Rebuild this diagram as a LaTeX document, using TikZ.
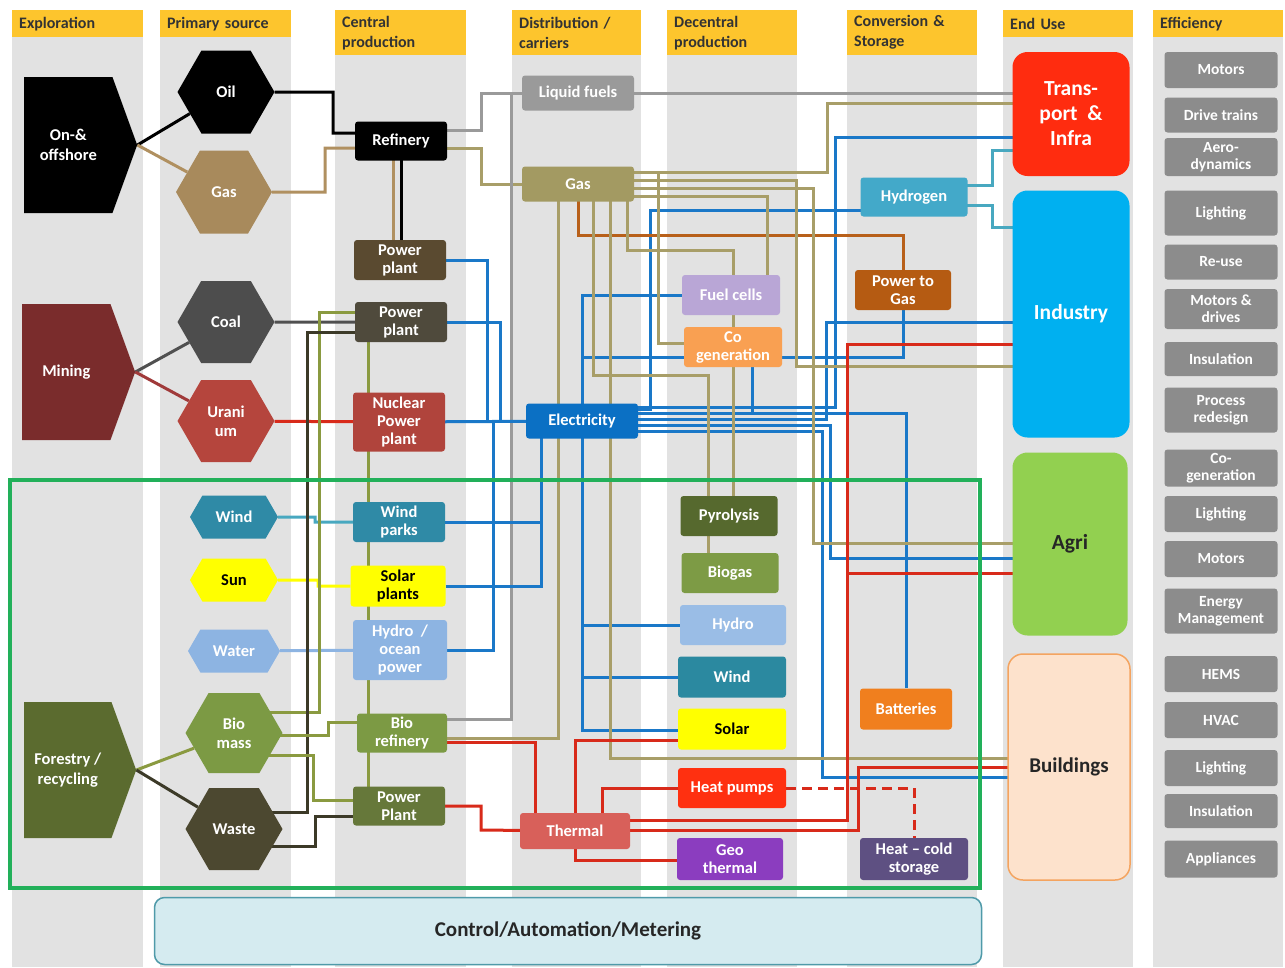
\documentclass[tikz,border=0pt]{standalone}
\usepackage{fontspec}
\setmainfont{Carlito}
\usetikzlibrary{shapes.symbols,shapes.geometric}
\pgfdeclarelayer{bg}
\pgfdeclarelayer{lines}
\pgfsetlayers{bg,lines,main}
\definecolor{hdr}{HTML}{FDC52D}
\definecolor{colgray}{HTML}{E2E2E2}
\definecolor{tanc}{HTML}{B09060}
\definecolor{khaki}{HTML}{A89E68}
\definecolor{grayc}{HTML}{9A9A9A}
\definecolor{bluec}{HTML}{1A78C8}
\definecolor{olivec}{HTML}{8A9A40}
\definecolor{darkc}{HTML}{3C3A28}
\definecolor{dgrayc}{HTML}{505050}
\definecolor{redc}{HTML}{D82A1A}
\definecolor{mredc}{HTML}{A03A3A}
\definecolor{brownc}{HTML}{B8601A}
\definecolor{tealc}{HTML}{48A8C0}
\definecolor{ltblue}{HTML}{8DB4E2}
\definecolor{yel}{HTML}{FFFF00}
\definecolor{effg}{HTML}{8C8C8C}
\definecolor{frame}{HTML}{22B05A}
\tikzset{
  bx/.style={rectangle, rounded corners=3pt, text=white, align=center, inner sep=1pt,
    font=\bfseries\fontsize{16.5}{18}\selectfont},
  hex/.style={signal, signal to=east and west, signal pointer angle=120, text=white, align=center,
    inner sep=1pt, font=\bfseries\fontsize{16.5}{19}\selectfont},
  arr/.style={signal, signal to=east, signal pointer angle=140, text=white, align=center,
    inner sep=1pt, font=\bfseries\fontsize{16.5}{20}\selectfont, anchor=west},
  hdrbox/.style={rectangle, fill=hdr, anchor=north west, align=left, text width=117pt, inner sep=0pt,
    inner xsep=7pt, text=black!80, font=\bfseries\fontsize{16}{20}\selectfont},
  eff/.style={bx, fill=effg, minimum width=113pt, font=\bfseries\fontsize{15.5}{17}\selectfont},
  enduse/.style={rectangle, rounded corners=15pt, align=center, inner sep=1pt,
    font=\bfseries\fontsize{21.5}{25}\selectfont},
  ln/.style={line width=3pt},
}
\begin{document}
\begin{tikzpicture}[x=1pt,y=-1pt]
\useasboundingbox (0,0) rectangle (1285,967);
% columns
\begin{pgfonlayer}{bg}
\fill[white] (0,0) rectangle (1285,967);
\foreach \xa/\w/\yt in {12/131/37,160/131/37,335/131/55,512/129/55,667/130/55,847/130/55,1003/130/37,1153/130/37}
  \fill[colgray] (\xa,\yt) rectangle (\xa+\w,967);
\end{pgfonlayer}
% headers
\node[hdrbox, minimum height=27pt] (h1) at (12,10) {Exploration};
\node[hdrbox, minimum height=27pt] (h2) at (160,10) {Primary source};
\node[hdrbox, minimum height=45pt] (h3) at (335,10) {Central\\production};
\node[hdrbox, minimum height=45pt, text width=115pt] (h4) at (512,10) {Distribution /\\carriers};
\node[hdrbox, minimum height=45pt, text width=116pt] (h5) at (667,10) {Decentral\\production};
\node[hdrbox, minimum height=45pt, text width=116pt] (h6) at (847,10) {Conversion \&\\Storage};
\node[hdrbox, minimum height=27pt, text width=116pt] (h7) at (1003,10) {End Use};
\node[hdrbox, minimum height=27pt, text width=116pt] (h8) at (1153,10) {Efficiency};

% exploration
\node[arr, fill=black, minimum width=113pt, minimum height=136pt] (onoff) at (24,145) {On-\&\\offshore};
\node[arr, fill={rgb,255:red,122;green,44;blue,44}, minimum width=113pt, minimum height=136pt] (mining) at (22,372) {Mining};
\node[arr, fill={rgb,255:red,91;green,107;blue,47}, minimum width=112pt, minimum height=136pt] (forestry) at (24,770) {Forestry /\\recycling};
% primary
\node[hex, fill=black, minimum width=97pt, minimum height=83pt] (oil) at (226,92) {Oil};
\node[hex, fill={rgb,255:red,168;green,138;blue,92}, minimum width=96pt, minimum height=83pt] (gashex) at (224,192) {Gas};
\node[hex, fill={rgb,255:red,77;green,77;blue,77}, minimum width=97pt, minimum height=82pt] (coal) at (226,322) {Coal};
\node[hex, fill={rgb,255:red,181;green,69;blue,61}, minimum width=97pt, minimum height=82pt] (uranium) at (226,421) {Urani\\um};
\node[hex, fill={rgb,255:red,47;green,138;blue,166}, minimum width=88pt, minimum height=43pt] (windhex) at (234,517) {Wind};
\node[hex, fill=yel, text=black, minimum width=88pt, minimum height=43pt] (sunhex) at (234,580) {Sun};
\node[hex, fill=ltblue, minimum width=92pt, minimum height=43pt] (waterhex) at (234,651) {Water};
\node[hex, fill={rgb,255:red,124;green,154;blue,68}, minimum width=97pt, minimum height=80pt] (biohex) at (234,733) {Bio\\mass};
\node[hex, fill={rgb,255:red,76;green,72;blue,48}, minimum width=97pt, minimum height=82pt] (wastehex) at (234,829) {Waste};
% central
\node[bx, fill=black, minimum width=92pt, minimum height=39pt] (refinery) at (401,141) {Refinery};
\node[bx, fill={rgb,255:red,90;green,74;blue,48}, minimum width=92pt, minimum height=40pt] (pp1) at (400,260) {Power\\plant};
\node[bx, fill={rgb,255:red,79;green,74;blue,60}, minimum width=92pt, minimum height=40pt] (pp2) at (401,322) {Power\\plant};
\node[bx, fill={rgb,255:red,176;green,68;blue,60}, minimum width=92pt, minimum height=59pt] (nuclear) at (399,422) {Nuclear\\Power\\plant};
\node[bx, fill={rgb,255:red,47;green,138;blue,166}, minimum width=92pt, minimum height=40pt] (windparks) at (399,522) {Wind\\parks};
\node[bx, fill=yel, text=black, minimum width=95pt, minimum height=41pt] (solarplants) at (398,586) {Solar\\plants};
\node[bx, fill=ltblue, minimum width=94pt, minimum height=60pt] (hydroocean) at (400,650) {Hydro \ /\\ocean\\power};
\node[bx, fill={rgb,255:red,124;green,154;blue,68}, minimum width=90pt, minimum height=39pt] (biorefinery) at (402,733) {Bio\\refinery};
\node[bx, fill={rgb,255:red,102;green,120;blue,58}, minimum width=92pt, minimum height=39pt] (pp3) at (399,806) {Power\\Plant};
% distribution
\node[bx, fill={rgb,255:red,154;green,154;blue,154}, minimum width=112pt, minimum height=35pt] (liquid) at (578,93) {Liquid fuels};
\node[bx, fill={rgb,255:red,163;green,154;blue,98}, minimum width=112pt, minimum height=35pt] (gasd) at (578,184) {Gas};
\node[bx, fill={rgb,255:red,11;green,112;blue,196}, minimum width=112pt, minimum height=35pt] (elec) at (582,421) {Electricity};
\node[bx, fill={rgb,255:red,216;green,96;blue,90}, minimum width=110pt, minimum height=36pt] (thermal) at (575,831) {Thermal};
% decentral
\node[bx, fill={rgb,255:red,185;green,166;blue,214}, minimum width=98pt, minimum height=40pt] (fuelcells) at (731,295) {Fuel cells};
\node[bx, fill={rgb,255:red,249;green,160;blue,82}, minimum width=98pt, minimum height=40pt] (cogen) at (733,347) {Co\\generation};
\node[bx, fill={rgb,255:red,86;green,105;blue,46}, minimum width=97pt, minimum height=40pt] (pyrolysis) at (729,516) {Pyrolysis};
\node[bx, fill={rgb,255:red,125;green,155;blue,69}, minimum width=97pt, minimum height=40pt] (biogas) at (730,573) {Biogas};
\node[bx, fill={rgb,255:red,154;green,189;blue,230}, minimum width=106pt, minimum height=40pt] (hydrodec) at (733,625) {Hydro};
\node[bx, fill={rgb,255:red,43;green,137;blue,160}, minimum width=108pt, minimum height=41pt] (winddec) at (732,677) {Wind};
\node[bx, fill=yel, text=black, minimum width=108pt, minimum height=41pt] (solardec) at (732,729) {Solar};
\node[bx, fill={rgb,255:red,255;green,48;blue,16}, minimum width=108pt, minimum height=40pt] (heatpumps) at (732,788) {Heat pumps};
\node[bx, fill={rgb,255:red,139;green,61;blue,191}, minimum width=106pt, minimum height=42pt] (geothermal) at (730,859) {Geo\\thermal};
% conversion
\node[bx, fill={rgb,255:red,67;green,169;blue,201}, minimum width=107pt, minimum height=39pt] (hydrogen) at (914,197) {Hydrogen};
\node[bx, fill={rgb,255:red,181;green,91;blue,18}, minimum width=96pt, minimum height=40pt] (p2g) at (903,290) {Power to\\Gas};
\node[bx, fill={rgb,255:red,240;green,127;blue,30}, minimum width=92pt, minimum height=41pt] (batteries) at (906,709) {Batteries};
\node[bx, fill={rgb,255:red,94;green,80;blue,130}, minimum width=108pt, minimum height=42pt] (heatcold) at (914,859) {Heat -- cold\\storage};
% end use
\node[enduse, fill={rgb,255:red,255;green,44;blue,15}, text=white, minimum width=117pt, minimum height=124pt] (transport) at (1071,114) {Trans-\\port \ \&\\Infra};
\node[enduse, fill={rgb,255:red,0;green,176;blue,240}, text=white, minimum width=117pt, minimum height=247pt] (industry) at (1071,314) {Industry};
\node[enduse, fill={rgb,255:red,146;green,208;blue,80}, text=black!85, minimum width=115pt, minimum height=183pt] (agri) at (1070,544) {Agri};
\node[enduse, fill={rgb,255:red,253;green,226;blue,204}, draw={rgb,255:red,244;green,164;blue,96}, line width=1.5pt, text=black!85, minimum width=122pt, minimum height=226pt, font=\bfseries\fontsize{21}{24}\selectfont] (buildings) at (1069,767) {Buildings};
% efficiency
\node[eff, minimum height=36pt] (e1) at (1221,70) {Motors};
\node[eff, minimum height=35pt] (e2) at (1221,115) {Drive trains};
\node[eff, minimum height=38pt] (e3) at (1221,157) {Aero-\\dynamics};
\node[eff, minimum height=45pt] (e4) at (1221,213) {Lighting};
\node[eff, minimum height=35pt] (e5) at (1221,262) {Re-use};
\node[eff, minimum height=40pt] (e6) at (1221,309) {Motors \&\\drives};
\node[eff, minimum height=34pt] (e7) at (1221,359) {Insulation};
\node[eff, minimum height=45pt] (e8) at (1221,410) {Process\\redesign};
\node[eff, minimum height=37pt] (e9) at (1221,468) {Co-\\generation};
\node[eff, minimum height=36pt] (e10) at (1221,514) {Lighting};
\node[eff, minimum height=36pt] (e11) at (1221,559) {Motors};
\node[eff, minimum height=45pt] (e12) at (1221,611) {Energy\\Management};
\node[eff, minimum height=36pt] (e13) at (1221,674) {HEMS};
\node[eff, minimum height=36pt] (e14) at (1221,720) {HVAC};
\node[eff, minimum height=36pt] (e15) at (1221,768) {Lighting};
\node[eff, minimum height=34pt] (e16) at (1221,811) {Insulation};
\node[eff, minimum height=37pt] (e17) at (1221,859) {Appliances};
% control
\node[rectangle, rounded corners=10pt, fill={rgb,255:red,213;green,235;blue,240}, draw={rgb,255:red,79;green,154;blue,169}, line width=1.5pt, minimum width=827pt, minimum height=67pt, text=black!85, font=\bfseries\fontsize{21}{24}\selectfont] (control) at (568,931) {Control/Automation/Metering};
% green frame
\draw[frame, line width=4pt] (10,480) rectangle (980,888);

% connectors
\begin{pgfonlayer}{lines}
% exploration to primary
\draw[ln, black] (onoff.east) -- (oil);
\draw[ln, tanc] (onoff.east) -- (gashex);
\draw[ln, dgrayc] (mining.east) -- (coal);
\draw[ln, mredc] (mining.east) -- (uranium);
\draw[ln, olivec] (forestry.east) -- (biohex);
\draw[ln, darkc] (forestry.east) -- (wastehex);
% primary to central
\draw[ln, black] (oil) -- (333,92) |- (refinery |- 0,133);
\draw[ln, tanc] (gashex) -- (325,192) |- (refinery |- 0,148);
\draw[ln, dgrayc] (coal) -- (pp2);
\draw[ln, redc] (uranium) -- (nuclear);
\draw[ln, tealc] (windhex) -- (315,517) |- (windparks);
\draw[ln, yel] (sunhex) -- (318,580) |- (solarplants);
\draw[ln, ltblue] (waterhex) -- (hydroocean);
\draw[ln, olivec] (biohex |- 0,712) -| (319,312) -- (pp2 |- 0,312);
\draw[ln, darkc] (wastehex |- 0,812) -| (307,332) -- (pp2 |- 0,332);
\draw[ln, olivec] (biohex |- 0,735) -| (328,722) -- (biorefinery |- 0,722);
\draw[ln, olivec] (biohex |- 0,755) -| (313,800) -- (pp3 |- 0,800);
\draw[ln, darkc] (wastehex |- 0,846) -| (315,816) -- (pp3 |- 0,816);
\draw[ln, olivec] (pp2 -| 368,0) -- (pp3 -| 368,0);
% refinery
\draw[ln, tanc] (refinery -| 393,0) -- (pp1 -| 393,0);
\draw[ln, black] (refinery -| 401,0) -- (pp1 -| 401,0);
\draw[ln, grayc] (refinery |- 0,130) -| (481,93) -- (liquid);
\draw[ln, khaki] (refinery |- 0,148) -| (481,184) -- (gasd);
\draw[ln, grayc] (biorefinery |- 0,719) -| (511,93) -- (liquid);
% to electricity
\draw[ln, bluec] (pp1) -| (487,421) -- (elec);
\draw[ln, bluec] (pp2) -| (500,421) -- (elec);
\draw[ln, bluec] (nuclear) -- (elec);
\draw[ln, bluec] (hydroocean) -| (493,421);
\draw[ln, bluec] (windparks) -| (541,421);
\draw[ln, bluec] (solarplants) -| (541,522);
\draw[ln, bluec] (fuelcells) -| (elec -| 582,0);
\draw[ln, bluec] (elec -| 582,0) |- (903,357) -- (p2g);
\draw[ln, bluec] (hydrodec) -| (elec -| 582,0);
\draw[ln, bluec] (winddec) -| (elec -| 582,0);
\draw[ln, bluec] (solardec |- 0,730) -| (elec -| 582,0);
\draw[ln, bluec] (cogen -| 752,0) |- (elec |- 0,413);
\draw[ln, bluec] (elec |- 0,409) -| (650,210) -- (hydrogen |- 0,210);
\draw[ln, bluec] (elec |- 0,407) -| (835,137) -- (transport |- 0,137);
\draw[ln, bluec] (elec |- 0,413) -| (batteries);
\draw[ln, bluec] (elec |- 0,419) -| (826,322) -- (industry |- 0,322);
\draw[ln, bluec] (elec |- 0,425) -| (830,558) -- (agri |- 0,558);
\draw[ln, bluec] (elec |- 0,431) -| (822,777) -- (buildings |- 0,777);
% gas distribution
\draw[ln, khaki] (gasd -| 558,0) |- (biorefinery |- 0,738);
\draw[ln, brownc] (gasd -| 578,0) |- (903,235) -- (p2g);
\draw[ln, khaki] (gasd -| 593,0) |- (708,375) -- (pyrolysis -| 708,0);
\draw[ln, khaki] (gasd -| 610,0) |- (buildings |- 0,758);
\draw[ln, khaki] (gasd -| 627,0) |- (733,250) -- (pyrolysis -| 733,0);
\draw[ln, khaki] (pyrolysis -| 708,0) -- (biogas -| 708,0);
\draw[ln, khaki] (gasd |- 0,172) -| (827,103) -- (transport |- 0,103);
\draw[ln, khaki] (gasd |- 0,172) -| (658,343) -- (cogen |- 0,343);
\draw[ln, khaki] (gasd |- 0,180) -| (796,366) -- (industry |- 0,366);
\draw[ln, khaki] (gasd |- 0,188) -| (813,543) -- (agri |- 0,543);
\draw[ln, khaki] (gasd |- 0,196) -| (767,295) -- (fuelcells);
% liquid fuels
\draw[ln, grayc] (liquid) -- (transport |- 0,93);
% hydrogen
\draw[ln, tealc] (hydrogen |- 0,185) -| (992,150) -- (transport |- 0,150);
\draw[ln, tealc] (hydrogen |- 0,205) -| (992,227) -- (industry |- 0,227);
% thermal
\draw[ln, redc] (biorefinery |- 0,742) -| (thermal -| 535,0);
\draw[ln, redc] (pp3) -| (481,830) -- (thermal);
\draw[ln, redc] (solardec |- 0,740) -| (thermal -| 575,0);
\draw[ln, redc] (heatpumps) -| (thermal -| 602,0);
\draw[ln, redc] (thermal -| 575,0) |- (geothermal |- 0,860);
\draw[ln, redc] (thermal |- 0,820) -| (847,344) -- (industry |- 0,344);
\draw[ln, redc] (847,573) -- (agri |- 0,573);
\draw[ln, redc] (thermal |- 0,830) -| (858,767) -- (buildings |- 0,767);
\draw[ln, redc, dash pattern=on 10pt off 6pt] (heatpumps) -| (heatcold);
\end{pgfonlayer}
\end{tikzpicture}
\end{document}
